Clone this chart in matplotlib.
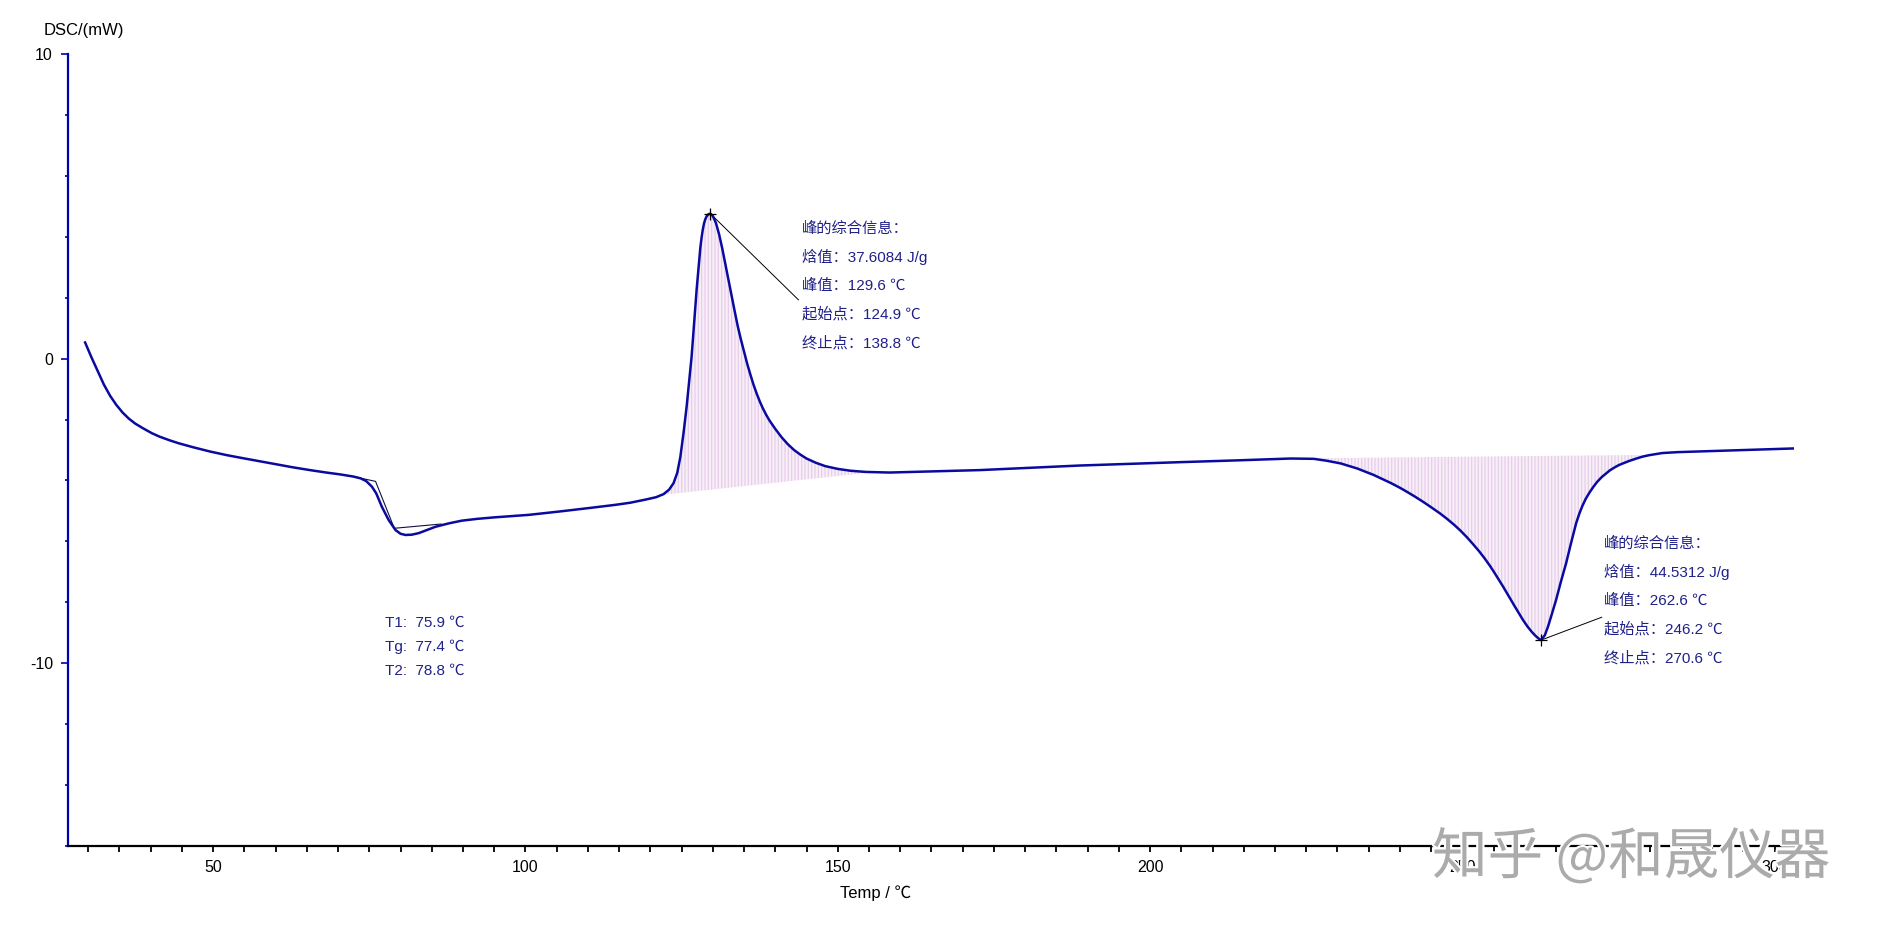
import numpy as np
import matplotlib
matplotlib.use('Agg')
import matplotlib.pyplot as plt
import matplotlib.patheffects as pe
from matplotlib.ticker import MultipleLocator, FixedLocator

plt.rcParams['font.family'] = ['Liberation Sans', 'Noto Sans CJK SC', 'DejaVu Sans']
plt.rcParams['axes.unicode_minus'] = False
plt.rcParams['hatch.linewidth'] = 0.8

# DSC curve
temp = [29.5, 30.5, 31.5, 32.5, 33.5, 34.5, 35.5, 36.5, 37.5, 38.8, 40.2, 41.4, 43.0, 44.5,
        46.8, 49.5, 52.2, 54.8, 57.5, 60.2, 62.8, 65.5, 68.1, 70.3, 72.4, 73.6, 74.5, 75.4,
        76.1, 77.0, 78.1, 79.2, 80.0, 80.8, 81.8, 82.9, 84.3, 85.6, 87.7, 89.8, 92.3, 95.1,
        100.5, 105.4, 110.4, 114.4, 116.8, 119.4, 120.9, 122.1, 123.0, 123.7, 124.3, 124.8,
        125.3, 125.8, 126.2, 126.6, 127.0, 127.4, 127.8, 128.0, 128.2, 128.4, 128.6, 128.8,
        129.0, 129.3, 129.6, 130.0, 130.5, 131.0, 131.5, 132.0, 132.5, 133.0, 133.5, 134.0,
        134.5, 135.0, 135.5, 136.0, 136.5, 137.0, 137.5, 138.0, 138.5, 139.0, 140.0, 141.0,
        142.0, 143.0, 144.0, 145.0, 146.5, 148.0, 150.0, 152.0, 154.5, 158.3, 172.7, 188.7,
        204.7, 214.0, 222.5, 226.2, 228.2, 230.5, 233.2, 235.8, 238.5, 240.0, 241.1, 242.4,
        243.7, 245.0, 246.4, 247.6, 248.7, 249.7, 250.7, 251.7, 252.7, 253.6, 254.4, 255.1,
        255.8, 256.5, 257.1, 257.8, 258.4, 259.1, 259.7, 260.4, 261.1, 261.7, 262.2, 262.6,
        263.2, 263.7, 264.3, 265.0, 265.8, 266.6, 267.4, 268.2, 268.7, 269.2, 269.7, 270.3,
        271.0, 271.6, 272.3, 273.0, 273.6, 274.3, 275.0, 275.7, 276.7, 277.7, 278.8, 279.9,
        282.0, 284.5, 290.8, 296.8, 302.9]
dsc = [0.53, 0.05, -0.40, -0.85, -1.22, -1.52, -1.77, -1.97, -2.13, -2.29, -2.45, -2.56,
       -2.68, -2.78, -2.91, -3.05, -3.17, -3.27, -3.37, -3.47, -3.57, -3.66, -3.74, -3.80,
       -3.87, -3.93, -4.02, -4.20, -4.42, -4.86, -5.30, -5.63, -5.75, -5.79, -5.78, -5.73,
       -5.62, -5.52, -5.41, -5.32, -5.26, -5.21, -5.13, -5.02, -4.90, -4.80, -4.73, -4.62,
       -4.55, -4.45, -4.30, -4.09, -3.75, -3.22, -2.45, -1.58, -0.75, 0.07, 1.15, 2.26,
       3.20, 3.65, 3.98, 4.25, 4.45, 4.58, 4.67, 4.74, 4.76, 4.68, 4.45, 4.08, 3.62, 3.10,
       2.57, 2.05, 1.55, 1.05, 0.62, 0.22, -0.17, -0.52, -0.85, -1.14, -1.40, -1.63, -1.83,
       -2.01, -2.31, -2.58, -2.81, -3.00, -3.15, -3.28, -3.42, -3.53, -3.62, -3.68, -3.72,
       -3.74, -3.66, -3.51, -3.40, -3.34, -3.28, -3.29, -3.35, -3.44, -3.61, -3.82, -4.08,
       -4.24, -4.37, -4.53, -4.70, -4.88, -5.08, -5.27, -5.46, -5.65, -5.86, -6.09, -6.33,
       -6.57, -6.80, -7.02, -7.25, -7.48, -7.69, -7.93, -8.14, -8.38, -8.58, -8.79, -8.97,
       -9.10, -9.19, -9.24, -9.08, -8.80, -8.40, -7.92, -7.30, -6.72, -6.05, -5.41, -5.10,
       -4.84, -4.62, -4.41, -4.20, -4.04, -3.89, -3.77, -3.67, -3.58, -3.50, -3.44, -3.36,
       -3.29, -3.22, -3.17, -3.10, -3.07, -3.03, -2.99, -2.95]

# glass transition
tg_line_x = [72.4, 76.0, 79.0, 86.5]
tg_line_y = [-3.87, -4.03, -5.57, -5.43]
tg_info = ['T1:  75.9 ℃', 'Tg:  77.4 ℃', 'T2:  78.8 ℃']

# crystallization peak
peak1 = (129.6, 4.76)
peak1_base_x = [122.0, 156.0]
peak1_base_y = [-4.47, -3.72]
peak1_info = ['峰的综合信息：', '焓值：37.6084 J/g', '峰值：129.6 ℃', '起始点：124.9 ℃', '终止点：138.8 ℃']

# melting peak
peak2 = (262.6, -9.24)
peak2_base_x = [222.5, 279.9]
peak2_base_y = [-3.28, -3.16]
peak2_info = ['峰的综合信息：', '焓值：44.5312 J/g', '峰值：262.6 ℃', '起始点：246.2 ℃', '终止点：270.6 ℃']

curve_color = '#0a0aa0'
text_color = '#20208a'

fig = plt.figure(figsize=(18.8, 9.31), dpi=100)
ax = fig.add_axes([0.0363, 0.0913, 0.918, 0.8507])

t = np.array(temp)
d = np.array(dsc)


def fill_peak(bx, by):
    m = (t >= bx[0]) & (t <= bx[1])
    base = np.interp(t[m], bx, by)
    ax.fill_between(t[m], d[m], base, facecolor='#f8eef8', edgecolor='#e6cbe9',
                    hatch='|||||', lw=0, zorder=1)


fill_peak(peak1_base_x, peak1_base_y)
fill_peak(peak2_base_x, peak2_base_y)

ax.plot(t, d, color=curve_color, lw=1.8, zorder=3, solid_joinstyle='round')
ax.plot(tg_line_x, tg_line_y, color='#101040', lw=0.8, zorder=2)

# peak markers and leader lines
ax.plot(*peak1, marker='+', color='black', ms=9, mew=0.9, zorder=4)
ax.plot([peak1[0], 143.7], [peak1[1], 1.93], color='black', lw=0.7)
ax.plot(*peak2, marker='+', color='black', ms=9, mew=0.9, zorder=4)
ax.plot([peak2[0], 272.3], [peak2[1], -8.49], color='black', lw=0.7)

for i, s in enumerate(peak1_info):
    ax.text(144.2, 4.28 - i * 0.94, s, fontsize=11, color=text_color, va='center', ha='left')
for i, s in enumerate(peak2_info):
    ax.text(272.6, -6.06 - i * 0.945, s, fontsize=11, color=text_color, va='center', ha='left')
for i, s in enumerate(tg_info):
    ax.text(77.5, -8.69 - i * 0.78, s, fontsize=11, color=text_color, va='center', ha='left')

ax.set_xlim(26.8, 303.1)
ax.set_ylim(-16, 10)

ax.spines['top'].set_visible(False)
ax.spines['right'].set_visible(False)
ax.spines['left'].set_color('#0000b4')
ax.spines['left'].set_linewidth(1.6)
ax.spines['bottom'].set_color('black')
ax.spines['bottom'].set_linewidth(1.6)

ax.yaxis.set_major_locator(FixedLocator([-10, 0, 10]))
ax.yaxis.set_minor_locator(MultipleLocator(2))
ax.tick_params(axis='y', which='major', direction='out', length=5, width=1.2,
               color='#0000b4', labelsize=11.5, pad=6)
ax.tick_params(axis='y', which='minor', direction='out', length=2.5, width=1.2, color='#0000b4')

ax.xaxis.set_major_locator(MultipleLocator(50))
ax.xaxis.set_minor_locator(MultipleLocator(5))
ax.tick_params(axis='x', which='both', direction='out', length=4, width=1.3,
               color='black', labelsize=11.5, pad=6)

fig.text(44 / 1880, 1 - 30 / 931, 'DSC/(mW)', fontsize=12, ha='left', va='center')
fig.text(876 / 1880, 1 - 893 / 931, 'Temp / ℃', fontsize=12, ha='center', va='center')

fig.text(1631 / 1880, 1 - 858 / 931, '知乎 @和晟仪器', fontsize=40, color='#ababab',
         ha='center', va='center', family=['Noto Sans CJK SC', 'DejaVu Sans'],
         path_effects=[pe.withStroke(linewidth=3, foreground='white')])

fig.savefig('out.png', dpi=100)
